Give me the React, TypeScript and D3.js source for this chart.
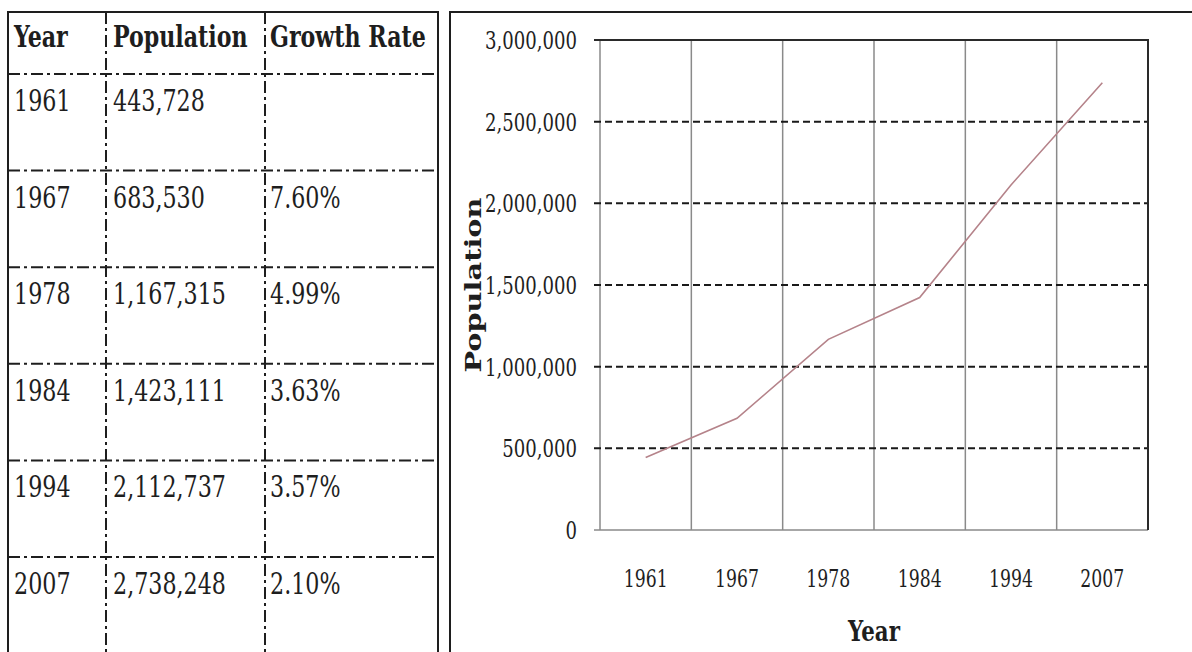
import React from "react";
import * as d3 from "d3";

// Census table data
const years = ["1961", "1967", "1978", "1984", "1994", "2007"];
const population = [443728, 683530, 1167315, 1423111, 2112737, 2738248];
const growthRates = ["", "7.60%", "4.99%", "3.63%", "3.57%", "2.10%"];
const headers = ["Year", "Population", "Growth Rate"];
const yTicks = [0, 500000, 1000000, 1500000, 2000000, 2500000, 3000000];

const W = 1192;
const H = 652;
const SERIF = "'DejaVu Serif Condensed', 'Liberation Serif', serif";
const INK = "#1e1e1e";

// Table geometry
const tLeft = 8;
const tRight = 438;
const tTop = 12;
const headerBottom = 74;
const rowH = 96.6;
const colX = [tLeft, 106, 265];
const colText = [14, 113, 270];
const dashDot = "12,4,3,4";

// Chart geometry
const panelLeft = 450;
const plot = { left: 600, right: 1148, top: 40, bottom: 530 };

function SText({ x, y, sy, size, weight, anchor, children }: any) {
  return (
    <g transform={`translate(${x},${y}) scale(1,${sy})`}>
      <text
        x={0}
        y={0}
        fontFamily={SERIF}
        fontSize={size}
        fontWeight={weight || "normal"}
        textAnchor={anchor || "start"}
        fill={INK}
      >
        {children}
      </text>
    </g>
  );
}

function Table() {
  const rowLines = years.map((_, i) => headerBottom + i * rowH);
  return (
    <g>
      {/* inner dash-dot dividers */}
      {rowLines.map((y, i) => (
        <line key={"r" + i} x1={tLeft} x2={tRight} y1={y} y2={y} stroke={INK} strokeWidth={2} strokeDasharray={dashDot} />
      ))}
      {colX.slice(1).map((x, i) => (
        <line key={"c" + i} x1={x} x2={x} y1={tTop} y2={H} stroke={INK} strokeWidth={2} strokeDasharray={dashDot} />
      ))}
      {/* outer frame */}
      <path d={`M${tLeft},${H} V${tTop} H${tRight} V${H}`} fill="none" stroke={INK} strokeWidth={2} />
      {headers.map((h, i) => (
        <SText key={h} x={colText[i]} y={47} sy={1.2} size={24.6} weight="bold">
          {h}
        </SText>
      ))}
      {years.map((yr, i) => {
        const base = headerBottom + i * rowH + 37;
        return (
          <g key={yr}>
            <SText x={colText[0]} y={base} sy={1.2} size={24.7}>{yr}</SText>
            <SText x={colText[1]} y={base} sy={1.2} size={24.7}>{d3.format(",")(population[i])}</SText>
            <SText x={colText[2]} y={base} sy={1.2} size={24.7}>{growthRates[i]}</SText>
          </g>
        );
      })}
    </g>
  );
}

function Chart() {
  const x = d3.scaleBand<string>().domain(years).range([plot.left, plot.right]).padding(0);
  const y = d3.scaleLinear().domain([0, 3000000]).range([plot.bottom, plot.top]);
  const cx = (d: string) => (x(d) as number) + x.bandwidth() / 2;
  const line = d3
    .line<number>()
    .x((_, i) => cx(years[i]))
    .y((v) => y(v));
  const fmt = d3.format(",");
  const bounds = years.map((d) => x(d) as number);

  return (
    <g>
      {/* panel frame */}
      <path d={`M${panelLeft},${H} V${tTop} H${W}`} fill="none" stroke={INK} strokeWidth={2} />

      {/* vertical category gridlines */}
      {bounds.map((bx, i) => (
        <line key={"v" + i} x1={bx} x2={bx} y1={plot.top} y2={plot.bottom} stroke="#8a8a8a" strokeWidth={1.5} />
      ))}

      {/* dashed value gridlines */}
      {yTicks.filter((t) => t > 0 && t < 3000000).map((t) => (
        <line key={"h" + t} x1={plot.left - 6} x2={plot.right} y1={y(t)} y2={y(t)} stroke="#1a1a1a" strokeWidth={2} strokeDasharray="7,4" />
      ))}

      {/* axis line and plot frame */}
      <line x1={plot.left - 6} x2={plot.right} y1={y(0)} y2={y(0)} stroke="#8a8a8a" strokeWidth={1.5} />
      <path d={`M${plot.left - 6},${y(3000000)} H${plot.right} V${plot.bottom}`} fill="none" stroke="#2a2a2a" strokeWidth={2} />

      {/* population line */}
      <path d={line(population) || ""} fill="none" stroke="#b5838a" strokeWidth={1.6} />

      {/* y tick labels */}
      {yTicks.map((t) => (
        <SText key={"yl" + t} x={577} y={y(t) + 9} sy={1.22} size={20.1} anchor="end">
          {fmt(t)}
        </SText>
      ))}

      {/* x tick labels */}
      {years.map((d) => (
        <SText key={"xl" + d} x={cx(d)} y={587} sy={1.28} size={19.2} anchor="middle">
          {d}
        </SText>
      ))}

      {/* axis titles */}
      <SText x={(plot.left + plot.right) / 2} y={641} sy={1.16} size={23.7} weight="bold" anchor="middle">
        Year
      </SText>
      <g transform={`translate(481,${(plot.top + plot.bottom) / 2}) rotate(-90)`}>
        <text
          x={0}
          y={0}
          fontFamily={SERIF}
          fontSize={23}
          fontWeight="bold"
          textAnchor="middle"
          textLength={175}
          lengthAdjust="spacingAndGlyphs"
          fill={INK}
        >
          Population
        </text>
      </g>
    </g>
  );
}

export default function App() {
  return (
    <div style={{ position: "absolute", left: 0, top: 0 }}>
      <svg width={W} height={H} viewBox={`0 0 ${W} ${H}`} style={{ display: "block", background: "#fff" }}>
        <Table />
        <Chart />
      </svg>
    </div>
  );
}
